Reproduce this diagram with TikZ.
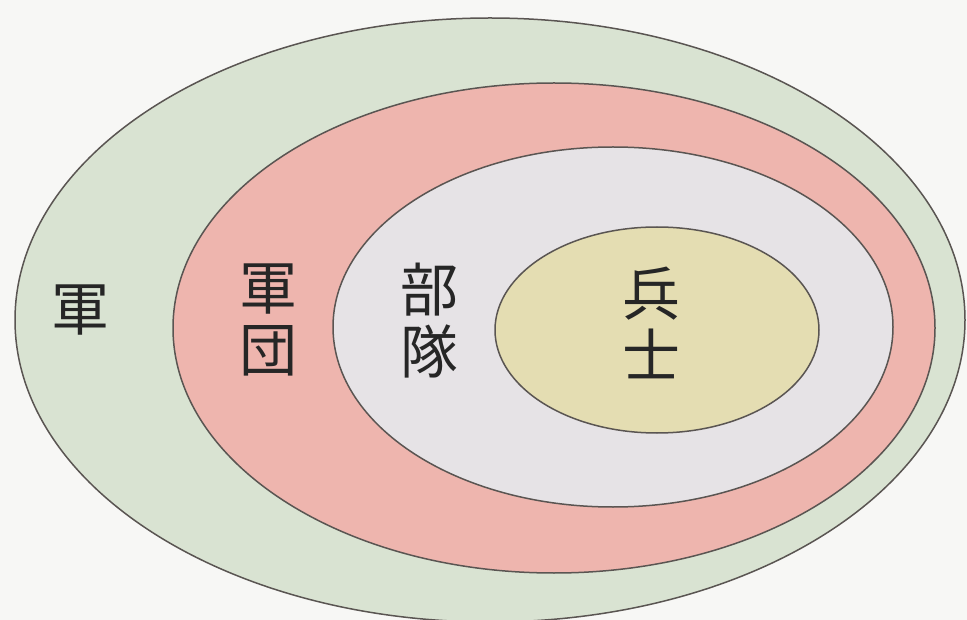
\documentclass[tikz,border=0pt]{standalone}
\usepackage{fontspec}
\newfontfamily\cjk{Noto Sans CJK JP}
\definecolor{bgc}{HTML}{F7F7F5}
\definecolor{armyc}{HTML}{D9E3D2}
\definecolor{corpsc}{HTML}{EEB5AE}
\definecolor{unitc}{HTML}{E6E3E6}
\definecolor{soldc}{HTML}{E4DDB2}
\definecolor{edgec}{HTML}{5A5552}
\tikzset{
  ring/.style={draw=edgec, line width=1.5pt},
  lbl/.style={font=\cjk\fontsize{58}{62}\selectfont, text=black!85, align=center, inner sep=0pt}
}
\begin{document}
\begin{tikzpicture}[x=1pt,y=-1pt]
\fill[bgc] (0,0) rectangle (967,620);
\useasboundingbox (0,0) rectangle (967,620);
\begin{scope}
\clip (0,0) rectangle (967,620);
\draw[ring, fill=armyc] (490,320) ellipse [x radius=475, y radius=302];
\end{scope}
\draw[ring, fill=corpsc] (554,328) ellipse [x radius=381, y radius=245];
\draw[ring, fill=unitc] (613,327) ellipse [x radius=280, y radius=180];
\draw[ring, fill=soldc] (657,330) ellipse [x radius=162, y radius=103];
\node[lbl] (army) at (80,310) {軍};
\node[lbl] (corps) at (268,320) {軍\\団};
\node[lbl] (unit) at (429,321) {部\\隊};
\node[lbl] (soldier) at (651,323) {兵\\士};
\end{tikzpicture}
\end{document}
